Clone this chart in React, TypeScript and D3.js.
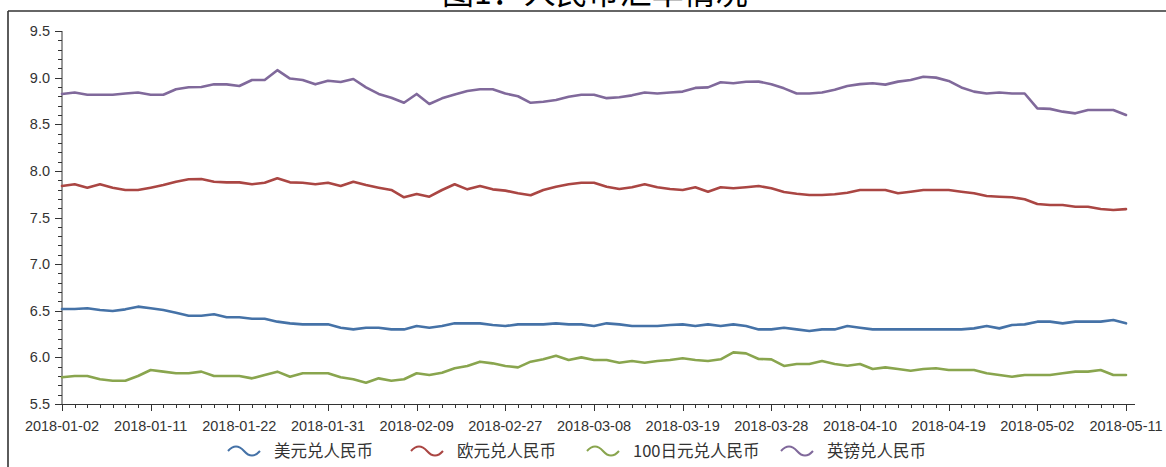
import React from "react";
import * as d3 from "d3";

const dates: string[] = [
  "2018-01-02","2018-01-03","2018-01-04","2018-01-05","2018-01-08","2018-01-09","2018-01-10","2018-01-11","2018-01-12","2018-01-15",
  "2018-01-16","2018-01-17","2018-01-18","2018-01-19","2018-01-22","2018-01-23","2018-01-24","2018-01-25","2018-01-26","2018-01-29",
  "2018-01-30","2018-01-31","2018-02-01","2018-02-02","2018-02-05","2018-02-06","2018-02-07","2018-02-08","2018-02-09","2018-02-12",
  "2018-02-13","2018-02-14","2018-02-22","2018-02-23","2018-02-26","2018-02-27","2018-02-28","2018-03-01","2018-03-02","2018-03-05",
  "2018-03-06","2018-03-07","2018-03-08","2018-03-09","2018-03-12","2018-03-13","2018-03-14","2018-03-15","2018-03-16","2018-03-19",
  "2018-03-20","2018-03-21","2018-03-22","2018-03-23","2018-03-26","2018-03-27","2018-03-28","2018-03-29","2018-03-30","2018-04-02",
  "2018-04-03","2018-04-04","2018-04-09","2018-04-10","2018-04-11","2018-04-12","2018-04-13","2018-04-16","2018-04-17","2018-04-18",
  "2018-04-19","2018-04-20","2018-04-23","2018-04-24","2018-04-25","2018-04-26","2018-04-27","2018-05-02","2018-05-03","2018-05-04",
  "2018-05-07","2018-05-08","2018-05-09","2018-05-10","2018-05-11",
];

const usdCny: number[] = [
  6.519,6.519,6.526,6.508,6.497,6.515,6.544,6.526,6.508,6.479,
  6.447,6.447,6.462,6.43,6.43,6.415,6.415,6.383,6.365,6.354,
  6.354,6.354,6.318,6.30,6.318,6.318,6.30,6.30,6.336,6.318,
  6.336,6.365,6.365,6.365,6.347,6.336,6.354,6.354,6.354,6.365,
  6.354,6.354,6.336,6.365,6.354,6.336,6.336,6.336,6.347,6.354,
  6.336,6.354,6.336,6.354,6.336,6.30,6.30,6.318,6.30,6.283,
  6.30,6.30,6.336,6.318,6.30,6.30,6.30,6.30,6.30,6.30,
  6.30,6.30,6.311,6.336,6.311,6.347,6.354,6.383,6.383,6.365,
  6.383,6.383,6.383,6.40,6.365,
];

const eurCny: number[] = [
  7.838,7.856,7.82,7.856,7.82,7.795,7.795,7.82,7.848,7.884,
  7.91,7.913,7.884,7.877,7.877,7.856,7.873,7.92,7.877,7.873,
  7.856,7.873,7.838,7.884,7.848,7.82,7.795,7.717,7.752,7.723,
  7.795,7.856,7.802,7.838,7.802,7.788,7.76,7.738,7.795,7.83,
  7.856,7.873,7.873,7.83,7.806,7.824,7.856,7.824,7.806,7.795,
  7.824,7.777,7.824,7.813,7.824,7.838,7.813,7.773,7.755,7.741,
  7.741,7.749,7.766,7.795,7.795,7.795,7.76,7.777,7.795,7.795,
  7.795,7.777,7.76,7.73,7.723,7.717,7.695,7.645,7.634,7.634,
  7.616,7.616,7.591,7.58,7.59,
];

const jpy100Cny: number[] = [
  5.786,5.80,5.80,5.765,5.75,5.75,5.80,5.865,5.847,5.83,
  5.83,5.847,5.80,5.80,5.80,5.775,5.811,5.847,5.793,5.83,
  5.83,5.83,5.786,5.765,5.729,5.775,5.75,5.765,5.83,5.811,
  5.836,5.883,5.908,5.954,5.936,5.908,5.893,5.954,5.979,6.018,
  5.972,6.0,5.972,5.972,5.943,5.961,5.943,5.961,5.972,5.99,
  5.972,5.961,5.979,6.054,6.043,5.983,5.979,5.908,5.929,5.929,
  5.961,5.929,5.911,5.929,5.875,5.893,5.875,5.857,5.875,5.883,
  5.865,5.865,5.865,5.829,5.811,5.793,5.811,5.811,5.811,5.829,
  5.847,5.847,5.865,5.811,5.811,
];

const gbpCny: number[] = [
  8.825,8.84,8.817,8.817,8.817,8.83,8.84,8.817,8.817,8.875,
  8.896,8.90,8.928,8.928,8.91,8.975,8.975,9.08,8.99,8.975,
  8.928,8.967,8.953,8.985,8.896,8.825,8.785,8.73,8.825,8.717,
  8.778,8.82,8.857,8.875,8.875,8.83,8.80,8.73,8.742,8.76,
  8.795,8.817,8.817,8.78,8.79,8.81,8.84,8.83,8.84,8.85,
  8.89,8.895,8.95,8.94,8.955,8.957,8.93,8.885,8.83,8.83,
  8.84,8.87,8.91,8.93,8.94,8.925,8.957,8.975,9.01,9.00,
  8.965,8.895,8.85,8.83,8.84,8.83,8.83,8.67,8.665,8.635,
  8.617,8.653,8.653,8.653,8.60,
];

const seriesNames: string[] = ["美元兑人民币", "欧元兑人民币", "100日元兑人民币", "英镑兑人民币"];
const seriesColors: string[] = ["#4572A7", "#AA4643", "#89A54E", "#80699B"];
const seriesValues: number[][] = [usdCny, eurCny, jpy100Cny, gbpCny];

const yMajorTicks: number[] = [5.5, 6.0, 6.5, 7.0, 7.5, 8.0, 8.5, 9.0, 9.5];
const xLabelStep = 7;
const titleText = "图1：人民币汇率情况";

const W = 1166;
const H = 467;
const plotLeft = 62;
const plotRight = 1126;
const axisEnd = 1135;
const plotTop = 31;
const plotBottom = 404;

const legendItemX: number[] = [228, 411, 587, 781];

export default function App() {
  const x = d3.scalePoint<string>().domain(dates).range([plotLeft, plotRight]);
  const y = d3.scaleLinear().domain([5.5, 9.5]).range([plotBottom, plotTop]);
  const line = d3
    .line<number>()
    .x((_, i) => x(dates[i]) as number)
    .y((d) => y(d));

  const minorY = d3.range(55, 96).map((v) => v / 10);
  const font = "'Liberation Sans', Arial, sans-serif";
  const cjk = "'Noto Sans CJK SC', 'Noto Sans', sans-serif";

  return (
    <svg
      width={W}
      height={H}
      style={{ position: "absolute", left: 0, top: 0, background: "#fff" }}
    >
      <rect x={0} y={0} width={W} height={H} fill="#fff" />
      {/* title (cut at top, as in the reference) */}
      <text x={595} y={4} textAnchor="middle" fontFamily={cjk} fontSize={32} fill="#000">
        {titleText}
      </text>
      {/* frame */}
      <line x1={8} x2={W} y1={11} y2={11} stroke="#333" strokeWidth={1.6} />
      <line x1={8} x2={8} y1={11} y2={H} stroke="#333" strokeWidth={1.6} />

      {/* y axis */}
      <line x1={plotLeft} x2={plotLeft} y1={plotTop} y2={plotBottom} stroke="#333" strokeWidth={1} />
      {minorY.map((v) => (
        <line key={"ym" + v} x1={plotLeft - 4} x2={plotLeft} y1={Math.round(y(v)) + 0.5} y2={Math.round(y(v)) + 0.5} stroke="#333" strokeWidth={1} />
      ))}
      {yMajorTicks.map((v) => (
        <g key={"y" + v}>
          <line x1={plotLeft - 7} x2={plotLeft} y1={Math.round(y(v)) + 0.5} y2={Math.round(y(v)) + 0.5} stroke="#333" strokeWidth={1} />
          <text x={plotLeft - 12} y={y(v) + 5} textAnchor="end" fontFamily={font} fontSize={14.5} fill="#333">
            {d3.format(".1f")(v)}
          </text>
        </g>
      ))}

      {/* x axis */}
      <line x1={plotLeft} x2={axisEnd} y1={plotBottom + 0.5} y2={plotBottom + 0.5} stroke="#333" strokeWidth={1} />
      {dates.map((d, i) => {
        const xx = Math.round(x(d) as number) + 0.5;
        const major = i % xLabelStep === 0;
        return (
          <g key={"x" + d}>
            <line x1={xx} x2={xx} y1={plotBottom} y2={plotBottom + (major ? 7 : 4)} stroke="#333" strokeWidth={1} />
            {major && (
              <text x={x(d) as number} y={431} textAnchor="middle" fontFamily={font} fontSize={14.5} fill="#333">
                {d}
              </text>
            )}
          </g>
        );
      })}

      {/* series */}
      {seriesValues.map((vals, k) => (
        <path
          key={"s" + k}
          d={line(vals) || ""}
          fill="none"
          stroke={seriesColors[k]}
          strokeWidth={2.6}
          strokeLinejoin="round"
          strokeLinecap="round"
        />
      ))}

      {/* legend */}
      {seriesNames.map((name, k) => {
        const lx = legendItemX[k];
        const ly = 451;
        return (
          <g key={"l" + k}>
            <path
              d={`M${lx},${ly} Q${lx + 8},${ly - 9} ${lx + 16},${ly} T${lx + 32},${ly}`}
              fill="none"
              stroke={seriesColors[k]}
              strokeWidth={2}
            />
            <text x={lx + 46} y={ly + 6} fontFamily={cjk} fontSize={16.5} fill="#333">
              {name}
            </text>
          </g>
        );
      })}
    </svg>
  );
}
